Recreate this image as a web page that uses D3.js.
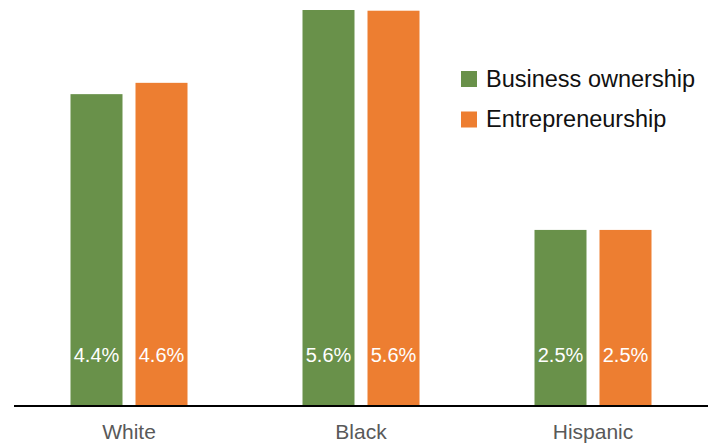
<!DOCTYPE html>
<html>
<head>
<meta charset="utf-8">
<script src="https://cdn.jsdelivr.net/npm/d3@7"></script>
<style>
  body { margin: 0; background: #fff; }
  text { font-family: "Liberation Sans", Arial, sans-serif; }
</style>
</head>
<body>
<div id="chart"></div>
<script>
var categories = ['White', 'Black', 'Hispanic'];
var series = ['Business ownership', 'Entrepreneurship'];
var ownership = [4.41, 5.60, 2.49];
var entrepreneurship = [4.57, 5.59, 2.49];
var colors = ['#69914A', '#ED7E31'];

var width = 710, height = 445;
var baseline = 406;

var data = categories.map(function(c, i) {
    return {cat: c, values: [ownership[i], entrepreneurship[i]]};
});

var svg = d3.select('#chart').append('svg')
    .attr('width', width)
    .attr('height', height);

var x0 = d3.scaleBand()
    .domain(categories)
    .range([13, 709]);

var x1 = d3.scaleBand()
    .domain(d3.range(series.length))
    .range([-58.5, 58.5])
    .paddingInner(0.2);

var y = d3.scaleLinear()
    .domain([0, 5.6])
    .range([baseline, 10]);

var groups = svg.selectAll('g.group')
    .data(data)
    .enter().append('g')
    .attr('class', 'group')
    .attr('transform', function(d) {
        return 'translate(' + (x0(d.cat) + x0.bandwidth() / 2) + ',0)';
    });

groups.selectAll('rect')
    .data(function(d) { return d.values; })
    .enter().append('rect')
    .attr('x', function(d, i) { return x1(i); })
    .attr('y', function(d) { return y(d); })
    .attr('width', x1.bandwidth())
    .attr('height', function(d) { return y(0) - y(d); })
    .style('fill', function(d, i) { return colors[i]; });

groups.selectAll('text.val')
    .data(function(d) { return d.values; })
    .enter().append('text')
    .attr('class', 'val')
    .attr('x', function(d, i) { return x1(i) + x1.bandwidth() / 2; })
    .attr('y', 362)
    .attr('text-anchor', 'middle')
    .style('fill', '#fff')
    .style('font-size', '20px')
    .text(function(d) { return d.toFixed(1) + '%'; });

// axis line + category labels
var xAxis = d3.axisBottom(x0).tickSize(0).tickPadding(14);
var ax = svg.append('g')
    .attr('transform', 'translate(0,' + baseline + ')')
    .call(xAxis);
ax.select('.domain')
    .attr('d', 'M14,0H708')
    .style('stroke', '#000')
    .style('stroke-width', 2);
ax.selectAll('text')
    .style('font-size', '21px')
    .style('fill', '#595959')
    .attr('dy', '0.71em')
    .attr('y', 18);

// legend
var legend = svg.selectAll('g.legend')
    .data(series)
    .enter().append('g')
    .attr('class', 'legend')
    .attr('transform', function(d, i) { return 'translate(461,' + (71 + i * 40.5) + ')'; });

legend.append('rect')
    .attr('width', 16)
    .attr('height', 16)
    .style('fill', function(d, i) { return colors[i]; });

legend.append('text')
    .attr('x', 25)
    .attr('y', 15.5)
    .style('font-size', '23.5px')
    .style('fill', '#111')
    .text(function(d) { return d; });
</script>
</body>
</html>
